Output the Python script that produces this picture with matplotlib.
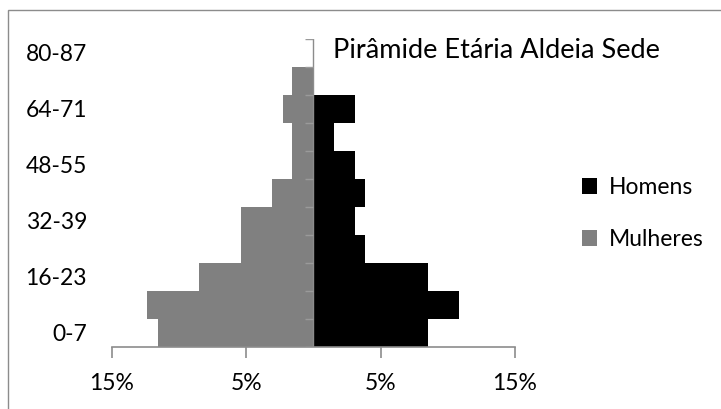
import numpy as np
import matplotlib
matplotlib.use("Agg")
import matplotlib.pyplot as plt
from matplotlib.patches import Rectangle

plt.rcParams['font.family'] = ['Lato', 'DejaVu Sans']

# age groups, bottom to top
faixas = ["0-7", "8-15", "16-23", "24-31", "32-39", "40-47",
          "48-55", "56-63", "64-71", "72-79", "80-87"]
# percent of total population
homens = [8.5, 10.8, 8.5, 3.8, 3.1, 3.8, 3.1, 1.5, 3.1, 0.0, 0.0]
mulheres = [11.6, 12.4, 8.5, 5.4, 5.4, 3.1, 1.6, 1.6, 2.3, 1.6, 0.0]
xticks = [-15, -5, 5, 15]
titulo = "Pirâmide Etária Aldeia Sede"

W, H = 721, 409
fig = plt.figure(figsize=(W / 100, H / 100), dpi=100)
fig.patch.set_facecolor("white")

# chart border (only left and top visible in the crop)
fig.patches.append(Rectangle((8 / W, -0.1), 1.2, (H - 10) / H + 0.1,
                             transform=fig.transFigure, fill=False,
                             edgecolor="#8c8c8c", linewidth=1.0))

ax = fig.add_axes([112 / W, (H - 346.5) / H, (515 - 112) / W, (346.5 - 38.5) / H])
y = np.arange(len(faixas))

ax.barh(y, homens, height=1.0, color="black", label="Homens", zorder=2)
ax.barh(y, -np.array(mulheres), height=1.0, color="#808080", label="Mulheres", zorder=2)

# category axis crossing at zero with outward ticks
ax.axvline(0, color="#8c8c8c", linewidth=1.0, zorder=3)
ax.hlines(np.arange(len(faixas) + 1) - 0.5, -0.6, 0, color="#9a9a9a",
          linewidth=1.0, zorder=3)

ax.set_xlim(-15, 15)
ax.set_ylim(-0.5, len(faixas) - 0.5)

ax.set_xticks(xticks)
ax.set_xticklabels([f"{abs(v)}%" for v in xticks])
ax.set_yticks(y[::2])
ax.set_yticklabels(faixas[::2])

for s in ["top", "right", "left"]:
    ax.spines[s].set_visible(False)
ax.spines["bottom"].set_color("#8c8c8c")
ax.spines["bottom"].set_linewidth(1.2)

ax.tick_params(axis="x", length=8, width=1.2, color="#8c8c8c", pad=11,
               labelsize=16.5)
ax.tick_params(axis="y", length=0, pad=18, labelsize=16.5)

fig.text(333 / W, 1 - 50 / H, titulo, fontsize=19.5, va="center", ha="left")

handles, labels = ax.get_legend_handles_labels()
ax.legend(handles, labels, loc="center left", bbox_to_anchor=(571 / W, 1 - 213.5 / H),
          bbox_transform=fig.transFigure, frameon=False, fontsize=16.5,
          handlelength=0.65, handleheight=0.65, handletextpad=0.5,
          labelspacing=1.35, borderpad=0)

fig.savefig("out.png", dpi=100)
